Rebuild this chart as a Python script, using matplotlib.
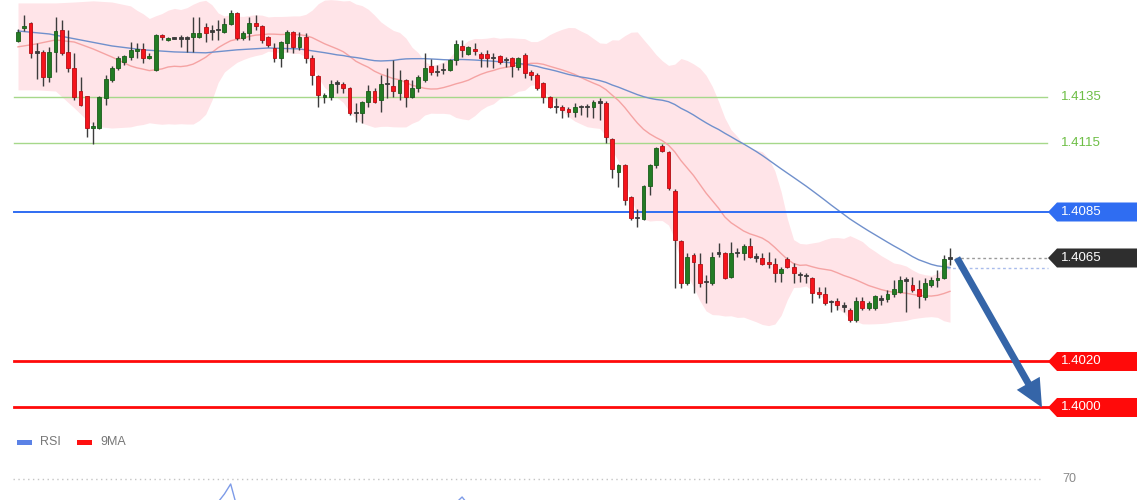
import numpy as np
import pandas as pd
import matplotlib
matplotlib.use("Agg")
import matplotlib.pyplot as plt
from matplotlib.patches import Polygon, Rectangle
import matplotlib.transforms as mtrans

plt.rcParams['font.family'] = ['Liberation Sans', 'DejaVu Sans']

# ---------------- data ----------------
opens = [1.41594, 1.41650, 1.41672, 1.41546, 1.41546, 1.41437, 1.41546, 1.41642, 1.41546, 1.41476,
         1.41376, 1.41355, 1.41215, 1.41215, 1.41346, 1.41424, 1.41476, 1.41502, 1.41524, 1.41550,
         1.41559, 1.41520, 1.41468, 1.41620, 1.41598, 1.41603, 1.41603, 1.41603, 1.41611, 1.41611,
         1.41655, 1.41637, 1.41644, 1.41633, 1.41668, 1.41715, 1.41607, 1.41629, 1.41672, 1.41659,
         1.41611, 1.41563, 1.41520, 1.41585, 1.41633, 1.41568, 1.41611, 1.41520, 1.41442, 1.41350,
         1.41350, 1.41408, 1.41407, 1.41389, 1.41283, 1.41281, 1.41329, 1.41376, 1.41337, 1.41405,
         1.41398, 1.41368, 1.41424, 1.41350, 1.41389, 1.41424, 1.41485, 1.41461, 1.41466, 1.41468,
         1.41511, 1.41572, 1.41537, 1.41559, 1.41537, 1.41537, 1.41522, 1.41529, 1.41513, 1.41520,
         1.41481, 1.41533, 1.41459, 1.41446, 1.41411, 1.41350, 1.41309, 1.41307, 1.41298, 1.41285,
         1.41305, 1.41309, 1.41307, 1.41324, 1.41324, 1.41168, 1.41024, 1.41055, 1.40915, 1.40822,
         1.40820, 1.40963, 1.41055, 1.41137, 1.41111, 1.40942, 1.40724, 1.40541, 1.40663, 1.40624,
         1.40544, 1.40541, 1.40672, 1.40672, 1.40568, 1.40670, 1.40672, 1.40702, 1.40654, 1.40650,
         1.40633, 1.40624, 1.40585, 1.40646, 1.40611, 1.40578, 1.40574, 1.40563, 1.40502, 1.40494,
         1.40457, 1.40463, 1.40441, 1.40424, 1.40381, 1.40463, 1.40433, 1.40433, 1.40469, 1.40472,
         1.40494, 1.40502, 1.40552, 1.40533, 1.40515, 1.40480, 1.40533, 1.40554, 1.40563, 1.40646]

highs = [1.41646, 1.41707, 1.41676, 1.41585, 1.41555, 1.41568, 1.41698, 1.41685, 1.41642, 1.41542,
         1.41437, 1.41355, 1.41242, 1.41355, 1.41446, 1.41485, 1.41529, 1.41533, 1.41589, 1.41585,
         1.41585, 1.41542, 1.41624, 1.41624, 1.41611, 1.41611, 1.41620, 1.41615, 1.41698, 1.41698,
         1.41672, 1.41663, 1.41685, 1.41694, 1.41729, 1.41720, 1.41637, 1.41698, 1.41707, 1.41663,
         1.41615, 1.41585, 1.41594, 1.41642, 1.41637, 1.41633, 1.41629, 1.41533, 1.41446, 1.41368,
         1.41424, 1.41424, 1.41415, 1.41394, 1.41324, 1.41333, 1.41402, 1.41389, 1.41446, 1.41476,
         1.41511, 1.41468, 1.41429, 1.41424, 1.41446, 1.41542, 1.41515, 1.41489, 1.41498, 1.41515,
         1.41598, 1.41598, 1.41572, 1.41585, 1.41546, 1.41555, 1.41542, 1.41533, 1.41524, 1.41524,
         1.41524, 1.41542, 1.41468, 1.41455, 1.41415, 1.41355, 1.41346, 1.41315, 1.41307, 1.41324,
         1.41315, 1.41320, 1.41337, 1.41346, 1.41333, 1.41172, 1.41059, 1.41059, 1.40920, 1.40863,
         1.40968, 1.41059, 1.41133, 1.41146, 1.41115, 1.40950, 1.40728, 1.40672, 1.40672, 1.40672,
         1.40576, 1.40676, 1.40715, 1.40676, 1.40720, 1.40694, 1.40711, 1.40737, 1.40672, 1.40672,
         1.40676, 1.40650, 1.40611, 1.40655, 1.40628, 1.40589, 1.40585, 1.40568, 1.40524, 1.40524,
         1.40467, 1.40476, 1.40459, 1.40433, 1.40480, 1.40480, 1.40463, 1.40489, 1.40489, 1.40511,
         1.40554, 1.40572, 1.40568, 1.40568, 1.40554, 1.40563, 1.40568, 1.40598, 1.40663, 1.40694]

lows = [1.41589, 1.41637, 1.41520, 1.41429, 1.41398, 1.41415, 1.41459, 1.41533, 1.41459, 1.41337,
        1.41311, 1.41176, 1.41146, 1.41211, 1.41315, 1.41415, 1.41468, 1.41489, 1.41511, 1.41520,
        1.41498, 1.41515, 1.41463, 1.41598, 1.41594, 1.41600, 1.41568, 1.41546, 1.41546, 1.41607,
        1.41589, 1.41598, 1.41598, 1.41629, 1.41663, 1.41598, 1.41598, 1.41598, 1.41642, 1.41585,
        1.41568, 1.41502, 1.41481, 1.41546, 1.41542, 1.41555, 1.41498, 1.41402, 1.41307, 1.41324,
        1.41337, 1.41368, 1.41368, 1.41272, 1.41242, 1.41237, 1.41307, 1.41324, 1.41285, 1.41346,
        1.41350, 1.41337, 1.41307, 1.41346, 1.41372, 1.41415, 1.41446, 1.41442, 1.41450, 1.41463,
        1.41489, 1.41524, 1.41533, 1.41533, 1.41481, 1.41481, 1.41476, 1.41494, 1.41481, 1.41437,
        1.41468, 1.41433, 1.41424, 1.41381, 1.41324, 1.41302, 1.41281, 1.41259, 1.41263, 1.41263,
        1.41272, 1.41263, 1.41259, 1.41250, 1.41150, 1.40998, 1.40959, 1.40881, 1.40815, 1.40785,
        1.40815, 1.40924, 1.41042, 1.41111, 1.40946, 1.40520, 1.40520, 1.40533, 1.40498, 1.40524,
        1.40455, 1.40533, 1.40655, 1.40559, 1.40563, 1.40655, 1.40642, 1.40650, 1.40633, 1.40620,
        1.40607, 1.40546, 1.40546, 1.40607, 1.40541, 1.40546, 1.40541, 1.40455, 1.40476, 1.40446,
        1.40415, 1.40424, 1.40415, 1.40372, 1.40372, 1.40424, 1.40424, 1.40424, 1.40446, 1.40459,
        1.40480, 1.40498, 1.40415, 1.40502, 1.40433, 1.40467, 1.40524, 1.40524, 1.40559, 1.40620]

closes = [1.41633, 1.41659, 1.41542, 1.41542, 1.41437, 1.41546, 1.41637, 1.41542, 1.41476, 1.41350,
          1.41315, 1.41215, 1.41224, 1.41350, 1.41429, 1.41476, 1.41520, 1.41529, 1.41555, 1.41559,
          1.41520, 1.41529, 1.41620, 1.41611, 1.41607, 1.41607, 1.41607, 1.41607, 1.41629, 1.41629,
          1.41629, 1.41633, 1.41640, 1.41668, 1.41715, 1.41607, 1.41629, 1.41672, 1.41659, 1.41598,
          1.41576, 1.41520, 1.41589, 1.41633, 1.41568, 1.41611, 1.41520, 1.41446, 1.41359, 1.41359,
          1.41407, 1.41412, 1.41389, 1.41281, 1.41279, 1.41329, 1.41376, 1.41329, 1.41407, 1.41409,
          1.41376, 1.41424, 1.41350, 1.41389, 1.41437, 1.41476, 1.41459, 1.41457, 1.41470, 1.41511,
          1.41581, 1.41555, 1.41568, 1.41550, 1.41520, 1.41520, 1.41518, 1.41502, 1.41509, 1.41485,
          1.41520, 1.41455, 1.41446, 1.41389, 1.41350, 1.41307, 1.41305, 1.41294, 1.41285, 1.41307,
          1.41309, 1.41305, 1.41329, 1.41328, 1.41176, 1.41037, 1.41055, 1.40902, 1.40824, 1.40826,
          1.40963, 1.41055, 1.41129, 1.41115, 1.40955, 1.40728, 1.40541, 1.40655, 1.40633, 1.40541,
          1.40548, 1.40655, 1.40668, 1.40563, 1.40672, 1.40674, 1.40702, 1.40655, 1.40650, 1.40624,
          1.40624, 1.40585, 1.40602, 1.40611, 1.40585, 1.40574, 1.40570, 1.40498, 1.40494, 1.40455,
          1.40461, 1.40446, 1.40437, 1.40381, 1.40463, 1.40433, 1.40454, 1.40485, 1.40472, 1.40494,
          1.40515, 1.40554, 1.40556, 1.40511, 1.40485, 1.40541, 1.40554, 1.40563, 1.40646, 1.40650]

# indicator values before enough history exists
early_bb_idx = [0, 3, 6, 9, 12, 15, 18]
early_bb_mid = [1.41568, 1.41581, 1.41598, 1.41589, 1.41559, 1.41524, 1.41485]
early_bb_up = [1.41759, 1.41759, 1.41759, 1.41763, 1.41768, 1.41763, 1.41746]
early_bb_lo = [1.41381, 1.41381, 1.41376, 1.41302, 1.41224, 1.41215, 1.41220]
early_ma_idx = [0, 5, 10, 15, 20, 25, 30, 35, 40, 45]
early_ma = [1.41637, 1.41624, 1.41598, 1.41572, 1.41555, 1.41546, 1.41542, 1.41555, 1.41563, 1.41559]

# RSI fragments visible at the bottom edge
rsi_idx_a = [31, 32, 33, 34, 35, 36]
rsi_val_a = [52.0, 58.5, 62.5, 67.5, 56.0, 53.0]
rsi_idx_b = [69, 70, 71, 72, 73]
rsi_val_b = [55.0, 58.0, 61.0, 57.0, 55.0]

green_levels = [1.4135, 1.4115]
green_labels = ["1.4135", "1.4115"]
tag_levels = [1.4085, 1.4065, 1.4020, 1.4000]
tag_labels = ["1.4085", "1.4065", "1.4020", "1.4000"]
tag_colors = ["#2F6DF2", "#2E2E2E", "#FF0A0A", "#FF0A0A"]
target_level = 1.4000
rsi_level = 70
legend_labels = ["RSI", "9MA"]
legend_colors = ["#5B82E6", "#FF1010"]

# ---------------- geometry ----------------
W, H = 1140, 500
PX_PER_PRICE = 23000.0           # vertical scale
Y_TOP = 1.417717                 # price at top edge
X0, DX = 18.0, 6.255             # first candle centre and spacing (px)

fig = plt.figure(figsize=(W / 100, H / 100), dpi=100)
fig.patch.set_facecolor("white")
ax = fig.add_axes([0, 0, 1, 1])
ax.set_xlim(-X0 / DX, (W - X0) / DX)
ax.set_ylim(Y_TOP - H / PX_PER_PRICE, Y_TOP)
ax.axis("off")

o = np.array(opens); c = np.array(closes); h = np.array(highs); l = np.array(lows)
n = len(c)
idx = np.arange(n)

s = pd.Series(c)
mid = s.rolling(20).mean()
sd = s.rolling(20).std(ddof=0)
up = mid + 2 * sd
lo = mid - 2 * sd
ma50 = s.rolling(50).mean()

bx = np.concatenate([early_bb_idx, idx[19:]])
bmid = np.concatenate([early_bb_mid, mid.values[19:]])
bup = np.concatenate([early_bb_up, up.values[19:]])
blo = np.concatenate([early_bb_lo, lo.values[19:]])
mx = np.concatenate([early_ma_idx, idx[49:]])
mval = np.concatenate([early_ma, ma50.values[49:]])

ax.fill_between(bx, blo, bup, color="#FFE4E8", lw=0, zorder=0.5)
ax.plot(bx, bmid, color="#F5A3A3", lw=1.0, zorder=2)
ax.plot(mx, mval, color="#7090CC", lw=1.0, zorder=2)

# horizontal levels
blend = mtrans.blended_transform_factory(ax.transAxes, ax.transData)
x_left = 14 / W
x_tip = 1048 / W
for lev, lab in zip(green_levels, green_labels):
    ax.axhline(lev, xmin=x_left, xmax=1047 / W, color="#A6D88A", lw=1.0, zorder=1)
    ax.text(1061 / W, lev, lab, transform=blend, color="#6DBE45", fontsize=9.5,
            va="center", ha="left")

ax.axhline(tag_levels[0], xmin=x_left, xmax=x_tip, color="#2F6DF2", lw=1.4, zorder=2.5)
ax.axhline(tag_levels[2], xmin=x_left, xmax=x_tip, color="#FF0A0A", lw=2.0, zorder=2.5)
ax.axhline(tag_levels[3], xmin=x_left, xmax=x_tip, color="#FF0A0A", lw=2.0, zorder=2.5)
# last price / last MA dotted extensions
ax.plot([n - 1 + 0.8, (1048 - X0) / DX], [c[-1], c[-1]], color="#9A9A9A", lw=1.0,
        ls=(0, (2, 2)), zorder=2)
ax.plot([n - 1 - 0.5, (1048 - X0) / DX], [mval[-1], mval[-1]], color="#A9BCEB", lw=1.0,
        ls=(0, (2, 2)), zorder=2)

hh = 9.5 / PX_PER_PRICE
for lev, lab, col in zip(tag_levels, tag_labels, tag_colors):
    poly = Polygon([(x_tip, lev), (1057 / W, lev + hh), (1137 / W, lev + hh),
                    (1137 / W, lev - hh), (1057 / W, lev - hh)], closed=True,
                   transform=blend, facecolor=col, edgecolor="none", zorder=5)
    ax.add_patch(poly)
    ax.text(1061 / W, lev, lab, transform=blend, color="white", fontsize=9.5,
            va="center", ha="left", zorder=6)

# candles
green_c = "#237B24"
red_c = "#F5141C"
ax.vlines(idx, l, h, color="#3C3C3C", lw=1.0, zorder=3)
body_lo = np.minimum(o, c)
body_h = np.maximum(np.abs(c - o), 1.6 / PX_PER_PRICE)
cols = []
edges = []
for oo, cc in zip(o, c):
    if abs(cc - oo) < 0.00006:
        cols.append("#3A3A3A"); edges.append("#3A3A3A")
    elif cc > oo:
        cols.append(green_c); edges.append("#1A5C1A")
    else:
        cols.append(red_c); edges.append("#B30F14")
ax.bar(idx, body_h, bottom=body_lo, width=0.62, color=cols, edgecolor=edges,
       linewidth=0.6, zorder=4)

# projection arrow
ax.annotate("", xy=((1042 - X0) / DX, target_level), xytext=((957 - X0) / DX, c[-1]),
            arrowprops=dict(arrowstyle="simple,head_length=1.0,head_width=0.95,tail_width=0.25",
                            facecolor="#3565A8", edgecolor="none", lw=0,
                            shrinkA=0, shrinkB=0, mutation_scale=20), zorder=7)

# ---------------- RSI strip ----------------
ax2 = fig.add_axes([0, 0, 1, 45 / H])
ax2.set_xlim(ax.get_xlim())
ax2.set_ylim(59.5, 82)
ax2.axis("off")
ax2.patch.set_alpha(0)
ax2.axhline(rsi_level, xmin=13 / W, xmax=1040 / W, color="#C4C4C4", lw=1.0,
            ls=(0, (1, 2.5)))
ax2.text(1062 / W, rsi_level, "70", transform=mtrans.blended_transform_factory(
    ax2.transAxes, ax2.transData), color="#8A8A8A", fontsize=9, va="center", ha="left")
ax2.plot(rsi_idx_a, rsi_val_a, color="#7D9BE8", lw=1.0)
ax2.plot(rsi_idx_b, rsi_val_b, color="#7D9BE8", lw=1.0)

# legend
for k, (lab, col) in enumerate(zip(legend_labels, legend_colors)):
    x0 = 17 + k * 60
    fig.patches.append(Rectangle((x0 / W, 1 - 444.5 / H), 15 / W, 5 / H,
                                 transform=fig.transFigure, facecolor=col,
                                 edgecolor="none"))
    fig.text((x0 + 23) / W, 1 - 442 / H, lab, color="#777777", fontsize=9,
             va="center", ha="left")

fig.savefig("out.png", dpi=100)
